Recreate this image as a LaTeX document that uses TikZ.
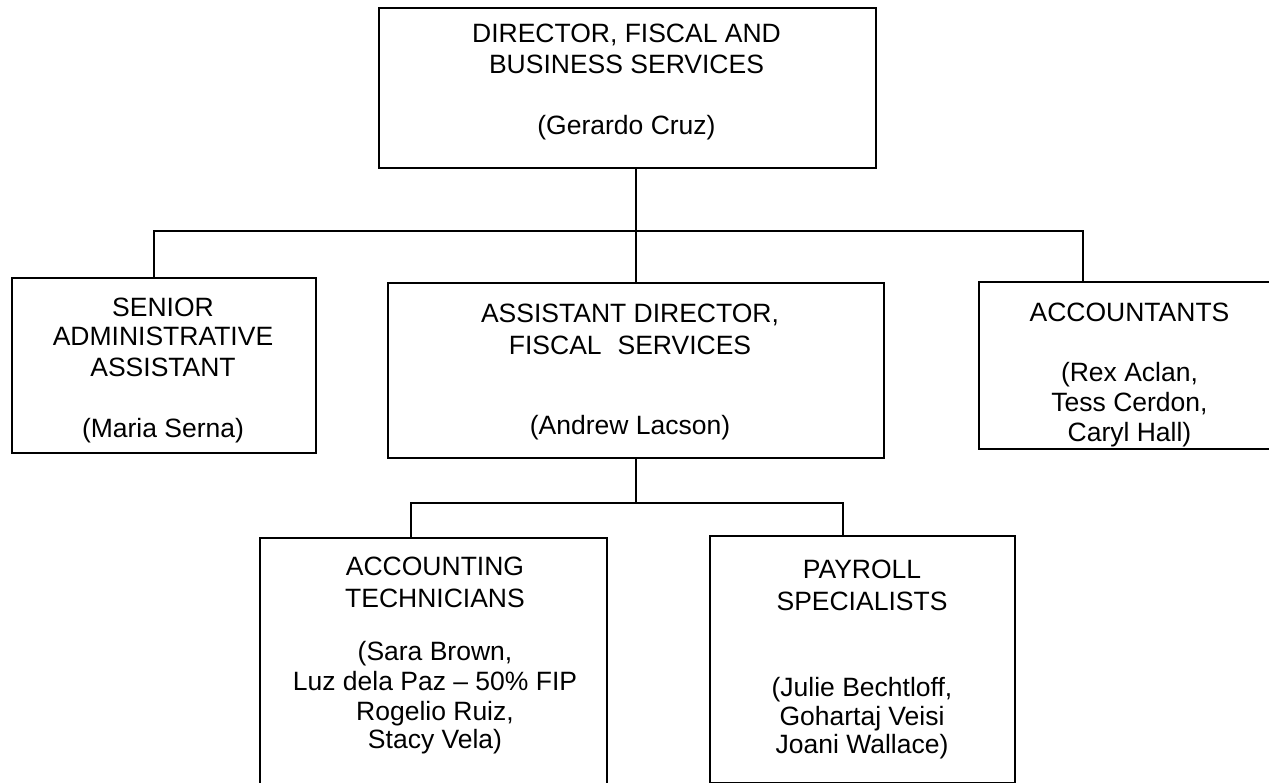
\documentclass[tikz,border=0pt]{standalone}
\usepackage{fontspec}
\setmainfont{Liberation Sans}
\begin{document}
\begin{tikzpicture}[x=1pt,y=-1pt,
  box/.style={draw,line width=2pt,anchor=north west,inner sep=0pt,rectangle},
  txt/.style={anchor=base,inner sep=0pt,font=\fontsize{26.5}{30}\selectfont},
  conn/.style={line width=2pt}]
\useasboundingbox (0,0) rectangle (1269,783);
\clip (0,0) rectangle (1269,783);
% boxes
\node[box,minimum width=497pt,minimum height=160pt] (top) at (378,7) {};
\node[box,minimum width=304pt,minimum height=175pt] (senior) at (11,277) {};
\node[box,minimum width=496pt,minimum height=175pt] (asst) at (387,282) {};
\node[box,minimum width=304pt,minimum height=167pt] (acct) at (978,281) {};
\node[box,minimum width=347pt,minimum height=262pt] (tech) at (259,537) {};
\node[box,minimum width=305pt,minimum height=247pt] (pay) at (709,535) {};
% texts
\node[txt] (t1) at (626.5,43) {DIRECTOR, FISCAL AND};
\node[txt] (t2) at (626.5,74) {BUSINESS SERVICES};
\node[txt] (t3) at (626.5,135) {(Gerardo Cruz)};
\node[txt] (s1) at (163,316.5) {SENIOR};
\node[txt] (s2) at (163,345.5) {ADMINISTRATIVE};
\node[txt] (s3) at (163,376.5) {ASSISTANT};
\node[txt] (s4) at (163,437) {(Maria Serna)};
\node[txt] (a1) at (630,323) {ASSISTANT DIRECTOR,};
\node[txt] (a2) at (630,355) {FISCAL\hspace{0.6em}SERVICES};
\node[txt] (a3) at (630,435) {(Andrew Lacson)};
\node[txt] (c1) at (1129.5,321.5) {ACCOUNTANTS};
\node[txt] (c2) at (1129.5,381.5) {(Rex Aclan,};
\node[txt] (c3) at (1129.5,411.5) {Tess Cerdon,};
\node[txt] (c4) at (1129.5,442) {Caryl Hall)};
\node[txt] (k1) at (435,575) {ACCOUNTING};
\node[txt] (k2) at (435,607.5) {TECHNICIANS};
\node[txt] (k3) at (435,660) {(Sara Brown,};
\node[txt] (k4) at (435,690) {Luz dela Paz -- 50\% FIP};
\node[txt] (k5) at (435,720) {Rogelio Ruiz,};
\node[txt] (k6) at (435,748) {Stacy Vela)};
\node[txt] (p1) at (862,578) {PAYROLL};
\node[txt] (p2) at (862,610) {SPECIALISTS};
\node[txt] (p3) at (862,696) {(Julie Bechtloff,};
\node[txt] (p4) at (862,725) {Gohartaj Veisi};
\node[txt] (p5) at (862,753) {Joani Wallace)};
% connectors
\coordinate (busL) at (154,231);
\coordinate (busR) at (1083,231);
\coordinate (lowL) at (411,503);
\coordinate (lowR) at (843,503);
\draw[conn] (top.south -| asst.north) -- (asst.north);
\draw[conn] (senior.north -| busL) -- (busL) -- (busR) -- (busR |- acct.north);
\draw[conn] (asst.south) -- (asst.south |- lowL);
\draw[conn] (tech.north -| lowL) -- (lowL) -- (lowR) -- (lowR |- pay.north);
\end{tikzpicture}
\end{document}
